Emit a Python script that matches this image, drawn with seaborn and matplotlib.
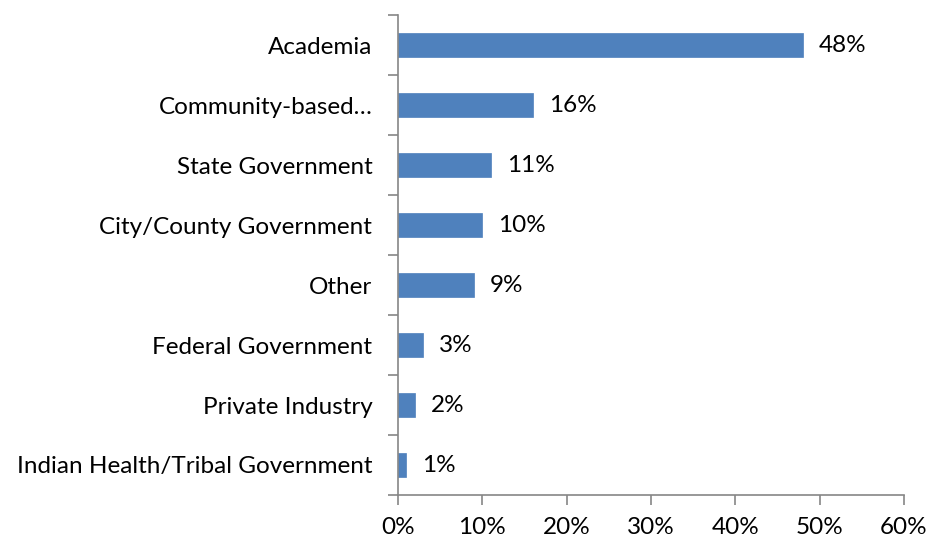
import matplotlib
matplotlib.use("Agg")
import matplotlib.pyplot as plt
import seaborn as sns
import pandas as pd
import numpy as np

categories = [
    "Academia",
    "Community-based\u2026",
    "State Government",
    "City/County Government",
    "Other",
    "Federal Government",
    "Private Industry",
    "Indian Health/Tribal Government",
]
values = [48, 16, 11, 10, 9, 3, 2, 1]
x_ticks = [0, 10, 20, 30, 40, 50, 60]
x_tick_labels = [f"{t}%" for t in x_ticks]

sns.set_theme(style="white")
plt.rcParams["font.family"] = ["Lato", "DejaVu Sans"]

df = pd.DataFrame({"category": categories, "value": values})

fig = plt.figure(figsize=(9.28, 5.40), dpi=100)
ax = fig.add_axes([398 / 928, 45 / 540, 506 / 928, 480 / 540])

sns.barplot(data=df, x="value", y="category", orient="h", color="#4F81BD",
            saturation=1, width=0.39, ax=ax, edgecolor="#4F81BD", linewidth=0.5)

labels = [f"{v}%" for v in values]
ax.bar_label(ax.containers[0], labels=labels, padding=11.5, fontsize=17.5, color="#000000")

ax.set_xlim(0, 60)
ax.set_ylim(len(categories) - 0.5, -0.5)
ax.set_xticks(x_ticks)
ax.set_xticklabels(x_tick_labels)
ax.set_xlabel("")
ax.set_ylabel("")

spine_color = "#868686"
for side in ["top", "right"]:
    ax.spines[side].set_visible(False)
for side in ["left", "bottom"]:
    ax.spines[side].set_color(spine_color)
    ax.spines[side].set_linewidth(1.2)

# category labels centered, tick marks on the category boundaries
ax.set_yticks(np.arange(len(categories) + 1) - 0.5, minor=True)
ax.tick_params(axis="y", which="major", length=0, pad=18.5, labelsize=17.5, labelcolor="#000000")
ax.tick_params(axis="y", which="minor", left=True, length=7, width=1.2, color=spine_color, direction="out")
ax.tick_params(axis="x", which="major", bottom=True, length=7, width=1.2, color=spine_color,
               direction="out", pad=9, labelsize=17.5, labelcolor="#000000")

fig.savefig("out.png", dpi=100, facecolor="white")
